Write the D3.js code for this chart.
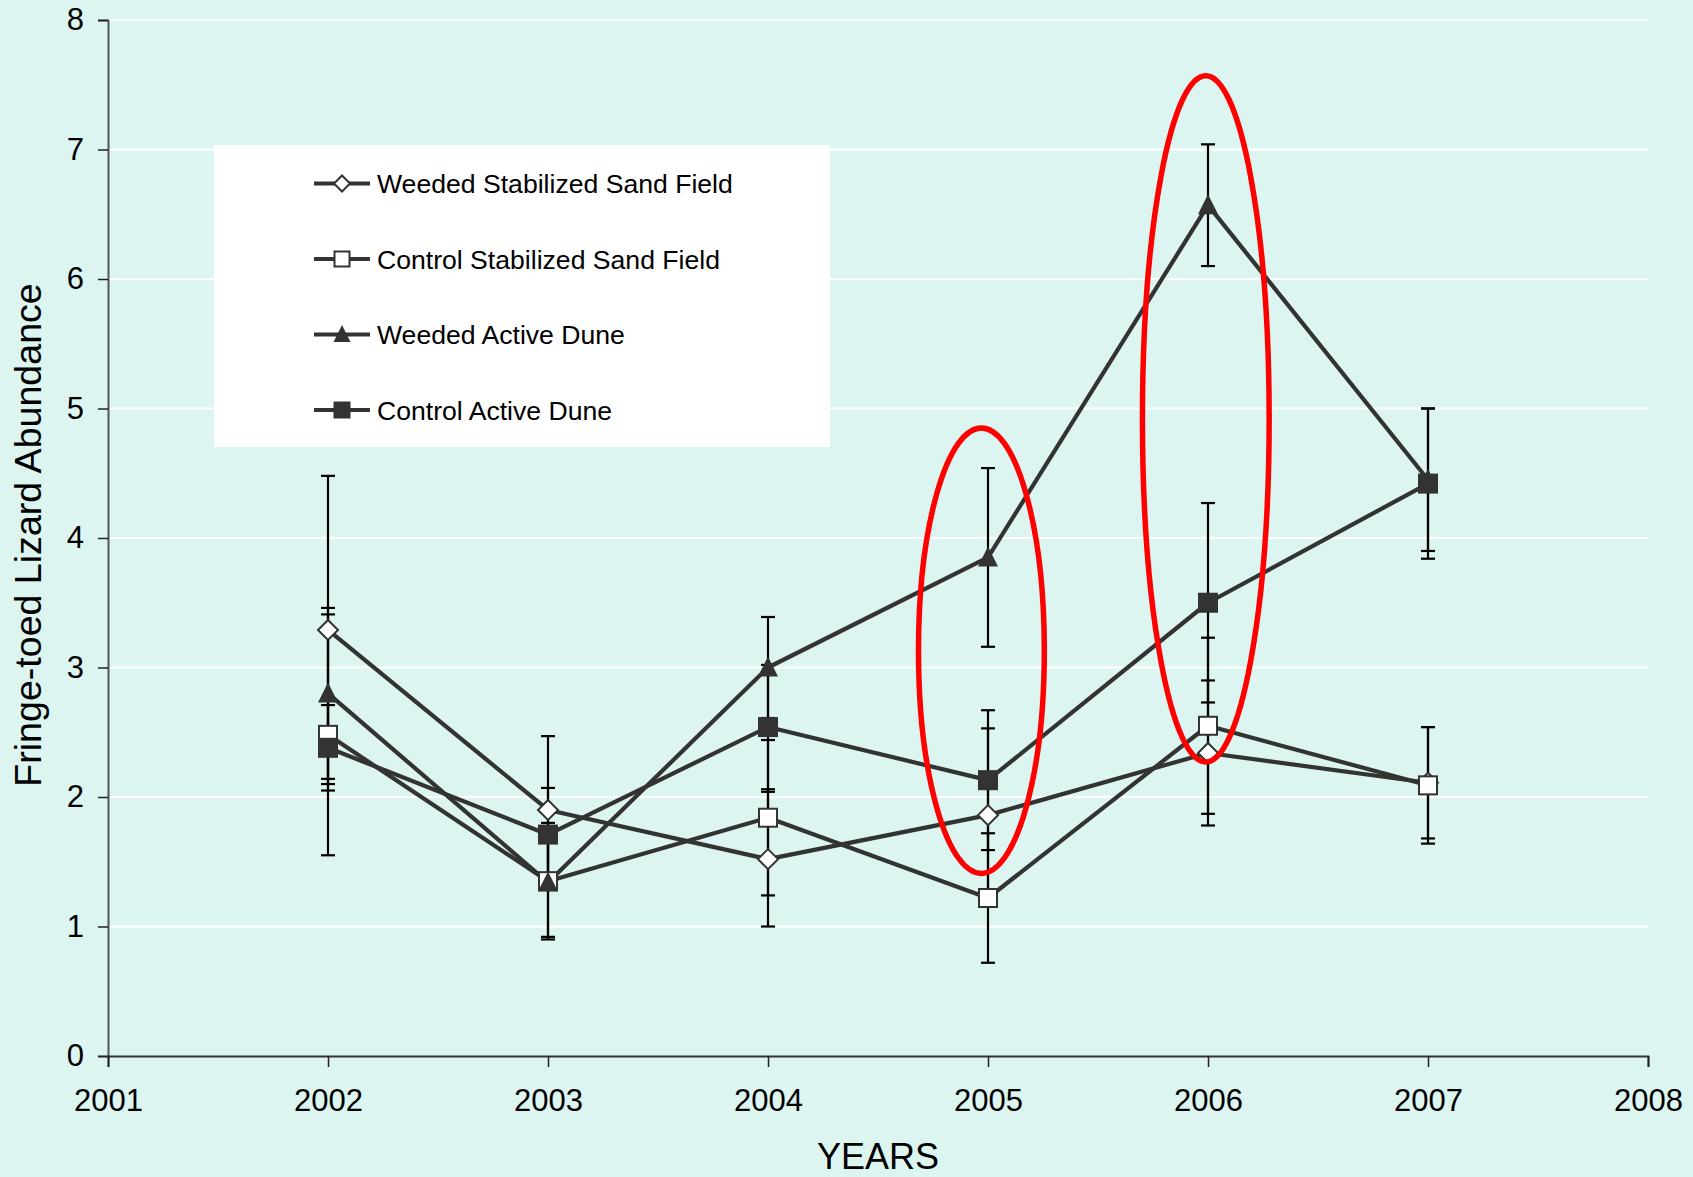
<!DOCTYPE html>
<html>
<head>
<meta charset="utf-8">
<script src="https://cdn.jsdelivr.net/npm/d3@7"></script>
<style>
  html, body { margin: 0; padding: 0; background: #dcf5f0; }
  svg { display: block; font-family: "Liberation Sans", Arial, sans-serif; }
</style>
</head>
<body>
<svg id="chart" width="1693" height="1177"></svg>
<script>
// Survey years
const years = [2002, 2003, 2004, 2005, 2006, 2007];

// Mean fringe-toed lizard abundance per treatment
const weededStabilized = [3.29, 1.90, 1.52, 1.86, 2.34, 2.11];
const controlStabilized = [2.48, 1.35, 1.84, 1.22, 2.55, 2.09];
const weededDune = [2.80, 1.34, 3.00, 3.85, 6.57, 4.45];
const controlDune = [2.38, 1.71, 2.54, 2.13, 3.50, 4.42];

// Error bar half-widths
const weededStabilizedErr = [1.19, 0.57, 0.52, 0.67, 0.56, 0.43];
const controlStabilizedErr = [0.93, 0.45, 0.60, 0.50, 0.68, 0.45];
const weededDuneErr = [0.66, 0.42, 0.39, 0.69, 0.47, 0.55];
const controlDuneErr = [0.33, 0.36, 0.48, 0.54, 0.77, 0.58];

const seriesNames = [
  "Weeded Stabilized Sand Field",
  "Control Stabilized Sand Field",
  "Weeded Active Dune",
  "Control Active Dune"
];
const seriesMarkers = ["diamond", "openSquare", "triangle", "filledSquare"];

// Axis ticks
const xTicks = [2001, 2002, 2003, 2004, 2005, 2006, 2007, 2008];
const yTicks = [0, 1, 2, 3, 4, 5, 6, 7, 8];

// Highlighted years: centre year, centre value, half-width (years), half-height (value)
const highlightYears = [2004.97, 2005.99];
const highlightCenters = [3.13, 4.92];
const highlightHalfWidths = [0.286, 0.288];
const highlightHalfHeights = [1.72, 2.65];

const series = seriesNames.map((name, i) => ({
  name,
  marker: seriesMarkers[i],
  values: [weededStabilized, controlStabilized, weededDune, controlDune][i],
  errs: [weededStabilizedErr, controlStabilizedErr, weededDuneErr, controlDuneErr][i]
}));

const svg = d3.select("#chart");
const W = 1693, H = 1177;
const plot = { left: 108, right: 1648, top: 20, bottom: 1056 };

svg.append("rect").attr("width", W).attr("height", H).attr("fill", "#dcf5f0");

const x = d3.scaleLinear().domain([2001, 2008]).range([plot.left, plot.right]);
const y = d3.scaleLinear().domain([0, 8]).range([plot.bottom, plot.top]);

// Gridlines
svg.append("g").selectAll("line").data(yTicks.filter(d => d > 0)).join("line")
  .attr("x1", plot.left).attr("x2", plot.right)
  .attr("y1", d => y(d)).attr("y2", d => y(d))
  .attr("stroke", "#ffffff").attr("stroke-width", 2);

// Y axis
const yAxis = svg.append("g").attr("transform", `translate(${plot.left},0)`)
  .call(d3.axisLeft(y).tickValues(yTicks).tickSize(10).tickPadding(14).tickFormat(d3.format("d")));
yAxis.select(".domain").attr("stroke", "#555").attr("stroke-width", 2);
yAxis.selectAll(".tick line").attr("stroke", "#222").attr("stroke-width", 1.5);
yAxis.selectAll(".tick text").attr("font-size", 31).attr("fill", "#000")
  .attr("font-family", "Liberation Sans, Arial, sans-serif");

// X axis
const xAxis = svg.append("g").attr("transform", `translate(0,${plot.bottom})`)
  .call(d3.axisBottom(x).tickValues(xTicks).tickSize(11).tickPadding(22).tickFormat(d3.format("d")));
xAxis.select(".domain").attr("stroke", "#333").attr("stroke-width", 2);
xAxis.selectAll(".tick line").attr("stroke", "#222").attr("stroke-width", 1.5);
xAxis.selectAll(".tick text").attr("font-size", 31).attr("fill", "#000")
  .attr("font-family", "Liberation Sans, Arial, sans-serif");

// Axis titles
svg.append("text")
  .attr("x", (plot.left + plot.right) / 2).attr("y", 1169)
  .attr("text-anchor", "middle").attr("font-size", 36).attr("fill", "#000")
  .text("YEARS");
svg.append("text")
  .attr("transform", `translate(41,535) rotate(-90)`)
  .attr("text-anchor", "middle").attr("font-size", 37.6).attr("fill", "#000")
  .text("Fringe-toed Lizard Abundance");

// Error bars
const capHalf = 7;
const errG = svg.append("g");
series.forEach(s => {
  years.forEach((yr, i) => {
    const cx = x(yr);
    const lo = y(s.values[i] - s.errs[i]);
    const hi = y(s.values[i] + s.errs[i]);
    errG.append("line").attr("x1", cx).attr("x2", cx).attr("y1", lo).attr("y2", hi)
      .attr("stroke", "#000").attr("stroke-width", 2.2);
    [lo, hi].forEach(yy => errG.append("line")
      .attr("x1", cx - capHalf).attr("x2", cx + capHalf).attr("y1", yy).attr("y2", yy)
      .attr("stroke", "#000").attr("stroke-width", 2.2));
  });
});

// Series lines
const line = d3.line().x(d => x(d[0])).y(d => y(d[1]));
series.forEach(s => {
  svg.append("path")
    .attr("d", line(years.map((yr, i) => [yr, s.values[i]])))
    .attr("fill", "none").attr("stroke", "#333333").attr("stroke-width", 4.2)
    .attr("stroke-linejoin", "round");
});

// Marker drawing
function drawMarker(g, type, cx, cy, size) {
  const h = size / 2;
  if (type === "diamond") {
    g.append("path")
      .attr("d", `M${cx},${cy - h}L${cx + h},${cy}L${cx},${cy + h}L${cx - h},${cy}Z`)
      .attr("fill", "#fff").attr("stroke", "#333").attr("stroke-width", 2);
  } else if (type === "openSquare") {
    g.append("rect").attr("x", cx - h + 1).attr("y", cy - h + 1)
      .attr("width", size - 2).attr("height", size - 2)
      .attr("fill", "#fff").attr("stroke", "#333").attr("stroke-width", 2);
  } else if (type === "filledSquare") {
    g.append("rect").attr("x", cx - h).attr("y", cy - h)
      .attr("width", size).attr("height", size)
      .attr("fill", "#333");
  } else if (type === "triangle") {
    g.append("path")
      .attr("d", `M${cx},${cy - h - 1}L${cx + h},${cy + h - 1}L${cx - h},${cy + h - 1}Z`)
      .attr("fill", "#333");
  }
}

const markerG = svg.append("g");
series.forEach(s => {
  years.forEach((yr, i) => drawMarker(markerG, s.marker, x(yr), y(s.values[i]), 20));
});

// Legend
const legend = svg.append("g");
legend.append("rect").attr("x", 214).attr("y", 145).attr("width", 616).attr("height", 302)
  .attr("fill", "#ffffff");
series.forEach((s, i) => {
  const ry = 183.5 + i * 75.5;
  legend.append("line").attr("x1", 314).attr("x2", 370).attr("y1", ry).attr("y2", ry)
    .attr("stroke", "#333").attr("stroke-width", 4.2);
  drawMarker(legend, s.marker, 342, ry, s.marker === "diamond" ? 16 : 17);
  legend.append("text").attr("x", 377).attr("y", ry + 9.5)
    .attr("font-size", 26.6).attr("fill", "#000").text(s.name);
});

// Highlight ellipses around the peak years
highlightYears.forEach((yr, i) => {
  const cx = x(yr);
  const cy = y(highlightCenters[i]);
  const rx = x(yr + highlightHalfWidths[i]) - cx;
  const ryy = cy - y(highlightCenters[i] + highlightHalfHeights[i]);
  svg.append("ellipse").attr("cx", cx).attr("cy", cy).attr("rx", rx).attr("ry", ryy)
    .attr("fill", "none").attr("stroke", "#ff0000").attr("stroke-width", 5.5);
});
</script>
</body>
</html>
